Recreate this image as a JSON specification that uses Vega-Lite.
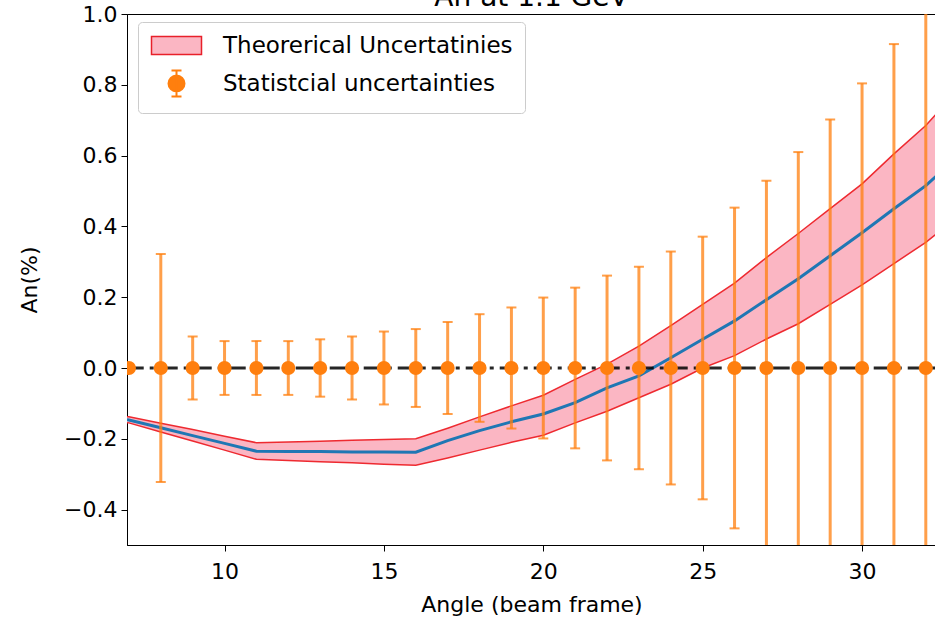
{
  "$schema": "https://vega.github.io/schema/vega-lite/v6.json",
  "autosize": "none",
  "width": 809,
  "height": 531,
  "padding": {"left": 127, "top": 14, "right": 0, "bottom": 77},
  "background": "white",
  "config": {
    "view": {"stroke": "#000000", "strokeWidth": 1},
    "font": "DejaVu Sans",
    "title": {"fontSize": 28, "font": "DejaVu Sans", "fontWeight": "normal", "color": "#000000", "baseline": "bottom", "offset": 0, "dy": 13, "anchor": "middle", "frame": "group"},
    "axis": {
      "labelFont": "DejaVu Sans", "titleFont": "DejaVu Sans",
      "labelFontSize": 22, "titleFontSize": 22, "titleFontWeight": "normal",
      "labelColor": "#000000", "titleColor": "#000000",
      "domainColor": "#000000", "tickColor": "#000000",
      "tickSize": 6, "grid": false, "zindex": 1
    }
  },
  "title": "An at 1.1 GeV",
  "datasets": {
    "theory": [
      {"x": 6.9, "c": -0.146, "lo": -0.154, "hi": -0.137, "series": "Theorerical Uncertatinies"},
      {"x": 7, "c": -0.147, "lo": -0.155, "hi": -0.138, "series": "Theorerical Uncertatinies"},
      {"x": 8, "c": -0.169, "lo": -0.181, "hi": -0.156, "series": "Theorerical Uncertatinies"},
      {"x": 9, "c": -0.191, "lo": -0.206, "hi": -0.174, "series": "Theorerical Uncertatinies"},
      {"x": 10, "c": -0.213, "lo": -0.232, "hi": -0.193, "series": "Theorerical Uncertatinies"},
      {"x": 11, "c": -0.235, "lo": -0.258, "hi": -0.211, "series": "Theorerical Uncertatinies"},
      {"x": 12, "c": -0.236, "lo": -0.261, "hi": -0.209, "series": "Theorerical Uncertatinies"},
      {"x": 13, "c": -0.236, "lo": -0.265, "hi": -0.207, "series": "Theorerical Uncertatinies"},
      {"x": 14, "c": -0.237, "lo": -0.268, "hi": -0.204, "series": "Theorerical Uncertatinies"},
      {"x": 15, "c": -0.237, "lo": -0.272, "hi": -0.202, "series": "Theorerical Uncertatinies"},
      {"x": 16, "c": -0.238, "lo": -0.275, "hi": -0.2, "series": "Theorerical Uncertatinies"},
      {"x": 17, "c": -0.205, "lo": -0.254, "hi": -0.17, "series": "Theorerical Uncertatinies"},
      {"x": 18, "c": -0.177, "lo": -0.232, "hi": -0.138, "series": "Theorerical Uncertatinies"},
      {"x": 19, "c": -0.152, "lo": -0.21, "hi": -0.107, "series": "Theorerical Uncertatinies"},
      {"x": 20, "c": -0.13, "lo": -0.19, "hi": -0.077, "series": "Theorerical Uncertatinies"},
      {"x": 21, "c": -0.098, "lo": -0.155, "hi": -0.032, "series": "Theorerical Uncertatinies"},
      {"x": 22, "c": -0.056, "lo": -0.122, "hi": 0.011, "series": "Theorerical Uncertatinies"},
      {"x": 23, "c": -0.022, "lo": -0.084, "hi": 0.062, "series": "Theorerical Uncertatinies"},
      {"x": 24, "c": 0.029, "lo": -0.046, "hi": 0.12, "series": "Theorerical Uncertatinies"},
      {"x": 25, "c": 0.081, "lo": 0.0, "hi": 0.18, "series": "Theorerical Uncertatinies"},
      {"x": 26, "c": 0.133, "lo": 0.035, "hi": 0.24, "series": "Theorerical Uncertatinies"},
      {"x": 27, "c": 0.193, "lo": 0.082, "hi": 0.312, "series": "Theorerical Uncertatinies"},
      {"x": 28, "c": 0.252, "lo": 0.125, "hi": 0.38, "series": "Theorerical Uncertatinies"},
      {"x": 29, "c": 0.317, "lo": 0.18, "hi": 0.45, "series": "Theorerical Uncertatinies"},
      {"x": 30, "c": 0.382, "lo": 0.235, "hi": 0.52, "series": "Theorerical Uncertatinies"},
      {"x": 31, "c": 0.45, "lo": 0.295, "hi": 0.605, "series": "Theorerical Uncertatinies"},
      {"x": 32, "c": 0.515, "lo": 0.355, "hi": 0.685, "series": "Theorerical Uncertatinies"},
      {"x": 33, "c": 0.598, "lo": 0.426, "hi": 0.785, "series": "Theorerical Uncertatinies"}
    ],
    "stat": [
      {"x": 7, "y": 0, "lo": 0, "hi": 0, "series": "Statistcial uncertainties"},
      {"x": 8, "y": 0, "lo": -0.322, "hi": 0.322, "series": "Statistcial uncertainties"},
      {"x": 9, "y": 0, "lo": -0.089, "hi": 0.089, "series": "Statistcial uncertainties"},
      {"x": 10, "y": 0, "lo": -0.076, "hi": 0.076, "series": "Statistcial uncertainties"},
      {"x": 11, "y": 0, "lo": -0.076, "hi": 0.076, "series": "Statistcial uncertainties"},
      {"x": 12, "y": 0, "lo": -0.076, "hi": 0.076, "series": "Statistcial uncertainties"},
      {"x": 13, "y": 0, "lo": -0.081, "hi": 0.081, "series": "Statistcial uncertainties"},
      {"x": 14, "y": 0, "lo": -0.089, "hi": 0.089, "series": "Statistcial uncertainties"},
      {"x": 15, "y": 0, "lo": -0.103, "hi": 0.103, "series": "Statistcial uncertainties"},
      {"x": 16, "y": 0, "lo": -0.11, "hi": 0.11, "series": "Statistcial uncertainties"},
      {"x": 17, "y": 0, "lo": -0.13, "hi": 0.13, "series": "Statistcial uncertainties"},
      {"x": 18, "y": 0, "lo": -0.152, "hi": 0.152, "series": "Statistcial uncertainties"},
      {"x": 19, "y": 0, "lo": -0.171, "hi": 0.171, "series": "Statistcial uncertainties"},
      {"x": 20, "y": 0, "lo": -0.199, "hi": 0.199, "series": "Statistcial uncertainties"},
      {"x": 21, "y": 0, "lo": -0.227, "hi": 0.227, "series": "Statistcial uncertainties"},
      {"x": 22, "y": 0, "lo": -0.261, "hi": 0.261, "series": "Statistcial uncertainties"},
      {"x": 23, "y": 0, "lo": -0.286, "hi": 0.286, "series": "Statistcial uncertainties"},
      {"x": 24, "y": 0, "lo": -0.329, "hi": 0.329, "series": "Statistcial uncertainties"},
      {"x": 25, "y": 0, "lo": -0.371, "hi": 0.371, "series": "Statistcial uncertainties"},
      {"x": 26, "y": 0, "lo": -0.453, "hi": 0.453, "series": "Statistcial uncertainties"},
      {"x": 27, "y": 0, "lo": -0.529, "hi": 0.529, "series": "Statistcial uncertainties"},
      {"x": 28, "y": 0, "lo": -0.61, "hi": 0.61, "series": "Statistcial uncertainties"},
      {"x": 29, "y": 0, "lo": -0.702, "hi": 0.702, "series": "Statistcial uncertainties"},
      {"x": 30, "y": 0, "lo": -0.804, "hi": 0.804, "series": "Statistcial uncertainties"},
      {"x": 31, "y": 0, "lo": -0.915, "hi": 0.915, "series": "Statistcial uncertainties"},
      {"x": 32, "y": 0, "lo": -1.03, "hi": 1.03, "series": "Statistcial uncertainties"}
    ]
  },
  "encoding": {
    "x": {"field": "x", "type": "quantitative",
      "scale": {"domain": [6.94, 32.32], "nice": false, "zero": false},
      "axis": {"values": [10, 15, 20, 25, 30], "title": "Angle (beam frame)", "labelPadding": 10, "titlePadding": 12}}
  },
  "layer": [
    {
      "data": {"name": "theory"},
      "mark": {"type": "area", "clip": true, "opacity": 1},
      "encoding": {
        "y": {"field": "lo", "type": "quantitative",
          "scale": {"domain": [-0.5, 1.0], "nice": false, "zero": false},
          "axis": {"values": [-0.4, -0.2, 0, 0.2, 0.4, 0.6, 0.8, 1.0], "format": ".1f", "title": "An(%)", "labelPadding": 4, "titlePadding": 22}},
        "y2": {"field": "hi"},
        "fill": {"field": "series", "type": "nominal",
          "scale": {"domain": ["Theorerical Uncertatinies", "Statistcial uncertainties"], "range": ["#fbb6c3", "#ff7f0e"]},
          "legend": {
            "title": null, "orient": "none", "legendX": 11, "legendY": 8,
            "labelFont": "DejaVu Sans", "labelFontSize": 23, "labelColor": "#000000", "labelLimit": 0,
            "symbolSize": 400, "labelOffset": 50, "rowPadding": 8, "padding": 12,
            "strokeColor": "#cccccc", "fillColor": "#ffffff", "cornerRadius": 4,
            "symbolOpacity": 1,
            "encode": {
              "symbols": {
                "update": {
                  "shape": {"signal": "datum.value === 'Theorerical Uncertatinies' ? 'M-1,-0.9H4V0.9H-1Z' : 'M1.5,-1.3V1.3M1,-1.3H2M1,1.3H2M2.3,0A0.8,0.8,0,1,1,0.7,0A0.8,0.8,0,1,1,2.3,0Z'"},
                  "stroke": {"signal": "datum.value === 'Theorerical Uncertatinies' ? '#e8202a' : '#ff7f0e'"},
                  "strokeWidth": {"signal": "datum.value === 'Theorerical Uncertatinies' ? 1.5 : 2"},
                  "opacity": {"value": 1}
                }
              }
            }
          }}
      }
    },
    {
      "data": {"name": "theory"},
      "mark": {"type": "line", "clip": true, "color": "#ee2a30", "strokeWidth": 1.5},
      "encoding": {"y": {"field": "lo", "type": "quantitative"}}
    },
    {
      "data": {"name": "theory"},
      "mark": {"type": "line", "clip": true, "color": "#ee2a30", "strokeWidth": 1.5},
      "encoding": {"y": {"field": "hi", "type": "quantitative"}}
    },
    {
      "data": {"name": "theory"},
      "mark": {"type": "line", "clip": true, "color": "#1f77b4", "strokeWidth": 3},
      "encoding": {"y": {"field": "c", "type": "quantitative"}}
    },
    {
      "data": {"values": [{"x0": 6.9, "x1": 33, "y": 0}]},
      "mark": {"type": "rule", "clip": true, "color": "#000000", "strokeWidth": 3, "strokeDash": [18, 6, 4, 6], "opacity": 0.85},
      "encoding": {"x": {"field": "x0", "type": "quantitative"}, "x2": {"field": "x1"}, "y": {"field": "y", "type": "quantitative"}}
    },
    {
      "data": {"name": "stat"},
      "mark": {"type": "rule", "clip": true, "color": "#ff7f0e", "strokeWidth": 3, "opacity": 0.75},
      "encoding": {"y": {"field": "lo", "type": "quantitative"}, "y2": {"field": "hi"}}
    },
    {
      "data": {"name": "stat"},
      "mark": {"type": "tick", "clip": true, "orient": "horizontal", "color": "#ff7f0e", "size": 10, "thickness": 2, "opacity": 0.75},
      "encoding": {"y": {"field": "lo", "type": "quantitative"}}
    },
    {
      "data": {"name": "stat"},
      "mark": {"type": "tick", "clip": true, "orient": "horizontal", "color": "#ff7f0e", "size": 10, "thickness": 2, "opacity": 0.75},
      "encoding": {"y": {"field": "hi", "type": "quantitative"}}
    },
    {
      "data": {"name": "stat"},
      "mark": {"type": "circle", "clip": true, "size": 200, "opacity": 1},
      "encoding": {
        "y": {"field": "y", "type": "quantitative"},
        "fill": {"field": "series", "type": "nominal"}
      }
    }
  ]
}
